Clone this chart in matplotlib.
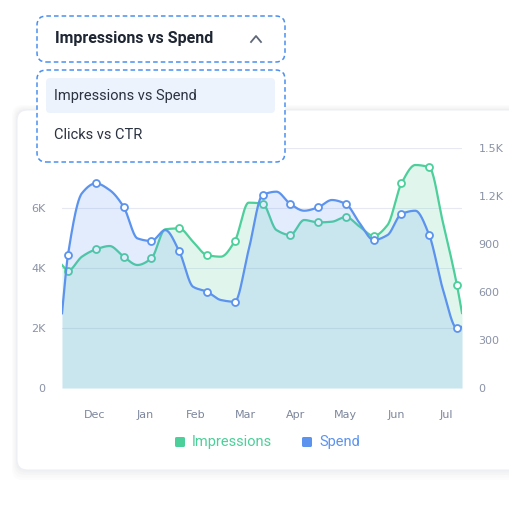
import numpy as np
import matplotlib
matplotlib.use("Agg")
import matplotlib.pyplot as plt
from matplotlib.patches import FancyBboxPatch

months = ["Dec", "Jan", "Feb", "Mar", "Apr", "May", "Jun", "Jul"]
impressions = [3910, 4620, 4380, 4320, 5320, 4430, 4890, 6150, 5100, 5520, 5700, 5070, 6820, 7360, 3420]
impressions_mid = [4377, 4733, 4100, 5290, 4877, 4377, 6177, 5267, 5600, 5543, 5377, 5433, 7433, 5490]
impressions_edges = [4100, 2500]
spend = [833, 1279, 1133, 919, 856, 602, 539, 1206, 1150, 1129, 1150, 925, 1088, 956, 373]
spend_mid = [1217, 1237, 935, 987, 633, 550, 862, 1227, 1108, 1175, 1029, 956, 1108, 612]
spend_edges = [467, 383]
left_ticks = [0, 2000, 4000, 6000]
left_labels = ["0", "2K", "4K", "6K"]
right_ticks = [0, 300, 600, 900, 1200, 1500]
right_labels = ["0", "300", "600", "900", "1.2K", "1.5K"]

GREEN = "#4ccf9a"
BLUE = "#5b93ee"
W, H = 509, 513

def pchip(x, y, xs):
    x = np.asarray(x, float); y = np.asarray(y, float)
    h = np.diff(x); d = np.diff(y) / h
    m = np.zeros_like(y)
    for k in range(1, len(y) - 1):
        if d[k-1] * d[k] > 0:
            w1 = 2*h[k] + h[k-1]; w2 = h[k] + 2*h[k-1]
            m[k] = (w1 + w2) / (w1/d[k-1] + w2/d[k])
    m[0] = d[0]; m[-1] = d[-1]
    out = np.empty_like(xs)
    for j, xv in enumerate(xs):
        k = min(max(np.searchsorted(x, xv) - 1, 0), len(x) - 2)
        t = (xv - x[k]) / h[k]
        h00 = 2*t**3 - 3*t**2 + 1; h10 = t**3 - 2*t**2 + t
        h01 = -2*t**3 + 3*t**2; h11 = t**3 - t**2
        out[j] = h00*y[k] + h10*h[k]*m[k] + h01*y[k+1] + h11*h[k]*m[k+1]
    return out

def merge(edges, pts, mids):
    xs_, ys_ = [x0], [edges[0]]
    for i, v in enumerate(pts):
        xs_.append(float(i)); ys_.append(v)
        if i < len(mids):
            xs_.append(i + 0.5); ys_.append(mids[i])
    xs_.append(x1); ys_.append(edges[1])
    return xs_, ys_

fig = plt.figure(figsize=(W/100, H/100), dpi=100)
fig.patch.set_facecolor("white")

def fx(px): return px / W
def fy(py): return 1 - py / H

for i, a in enumerate([0.025, 0.025, 0.03, 0.035]):
    g = 10 - i*2.5
    fig.patches.append(FancyBboxPatch((fx(17 - g/2), fy(470 + g)), fx(520 - 17 + g), (360 + g*1.5)/H,
                       boxstyle="round,pad=0,rounding_size=0.02", transform=fig.transFigure,
                       facecolor="#8a94a6", edgecolor="none", alpha=a, zorder=-2))
fig.patches.append(FancyBboxPatch((fx(17), fy(470)), fx(520 - 17), 360/H,
                   boxstyle="round,pad=0,rounding_size=0.02", transform=fig.transFigure,
                   facecolor="white", edgecolor="#eceff4", lw=0.8, zorder=-1))

ax = fig.add_axes([fx(62), fy(388), fx(400), 240/H])
ax.set_facecolor("none")
ax2 = ax.twinx()

xpts = np.arange(len(impressions), dtype=float)
x0, x1 = -0.216, 14.18
xs = np.linspace(x0, x1, 1000)
gx, gi = merge(impressions_edges, impressions, impressions_mid)
sx, gs = merge(spend_edges, spend, spend_mid)
yi = pchip(gx, gi, xs)
ysp = pchip(sx, gs, xs)

for a in (ax, ax2):
    a.set_xlim(x0, x1)
    for s in a.spines.values():
        s.set_visible(False)
ax.set_ylim(0, 8000)
ax2.set_ylim(0, 1500)

for v in [2000, 4000, 6000, 8000]:
    ax.axhline(v, color="#e6e9f2", lw=0.8, zorder=0)

ax.fill_between(xs, 0, yi, color=GREEN, alpha=0.17, lw=0, zorder=1)
ax.plot(xs, yi, color=GREEN, lw=1.6, zorder=3)
ax.plot(xpts, impressions, "o", ms=5, mfc="white", mec=GREEN, mew=1.3, zorder=4)
ax2.fill_between(xs, 0, ysp, color=BLUE, alpha=0.17, lw=0, zorder=1)
ax2.plot(xs, ysp, color=BLUE, lw=1.6, zorder=3)
ax2.plot(xpts, spend, "o", ms=5, mfc="white", mec=BLUE, mew=1.3, zorder=4)

mpos = [0.97 + 1.806*k for k in range(len(months))]
ax.set_xticks(mpos)
ax.set_xticklabels(months)
ax.set_yticks(left_ticks)
ax.set_yticklabels(left_labels)
ax2.set_yticks(right_ticks)
ax2.set_yticklabels(right_labels)
ax.tick_params(axis="x", length=0, pad=16, labelsize=8, labelcolor="#7d869c")
ax.tick_params(axis="y", length=0, pad=12, labelsize=8, labelcolor="#8a92a6")
ax2.tick_params(axis="y", length=0, pad=12, labelsize=8, labelcolor="#8a92a6")
ax2.tick_params(axis="x", length=0)

for cx, col, lab in [(180, GREEN, "Impressions"), (307, BLUE, "Spend")]:
    fig.patches.append(FancyBboxPatch((fx(cx - 5), fy(447)), fx(10), 10/H,
                       boxstyle="round,pad=0,rounding_size=0.003", transform=fig.transFigure,
                       facecolor=col, edgecolor="none", zorder=6))
    fig.text(fx(cx + 12), fy(442), lab, color=col, fontsize=10.5, va="center", ha="left",
             family="Roboto")

fig.patches.append(FancyBboxPatch((fx(37), fy(62)), fx(248), 46/H,
                   boxstyle="round,pad=0,rounding_size=0.018", transform=fig.transFigure,
                   facecolor="white", edgecolor="#4a8ff0", lw=1.1, ls=(0, (3, 2)), zorder=10))
fig.text(fx(55), fy(39), "Impressions vs Spend", fontsize=11.5, weight="bold",
         color="#1f2633", va="center", family="Roboto", zorder=11)
fig.lines.append(plt.Line2D([fx(251), fx(256), fx(261)], [fy(42), fy(36), fy(42)],
                 transform=fig.transFigure, color="#5f6778", lw=1.3, zorder=11))
fig.patches.append(FancyBboxPatch((fx(37), fy(162)), fx(248), 92/H,
                   boxstyle="round,pad=0,rounding_size=0.018", transform=fig.transFigure,
                   facecolor="white", edgecolor="#4a8ff0", lw=1.1, ls=(0, (3, 2)), zorder=10))
fig.patches.append(FancyBboxPatch((fx(46), fy(113)), fx(229), 35/H,
                   boxstyle="round,pad=0,rounding_size=0.008", transform=fig.transFigure,
                   facecolor="#edf3fd", edgecolor="none", zorder=11))
fig.text(fx(54), fy(96), "Impressions vs Spend", fontsize=10.5, color="#2b3240",
         va="center", family="Roboto", zorder=12)
fig.text(fx(54), fy(135), "Clicks vs CTR", fontsize=10.5, color="#2b3240",
         va="center", family="Roboto", zorder=12)

fig.savefig("out.png", dpi=100)
